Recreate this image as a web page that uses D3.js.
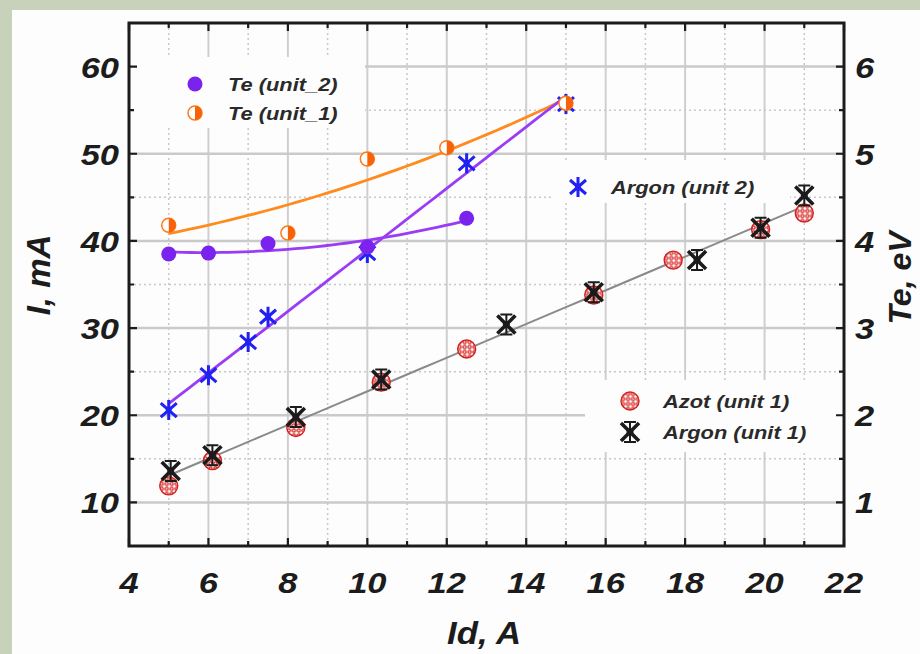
<!DOCTYPE html>
<html>
<head>
<meta charset="utf-8">
<script src="https://cdn.jsdelivr.net/npm/d3@7"></script>
<style>
  html, body { margin: 0; padding: 0; background: #c8d2bb; }
  svg { display: block; }
  text { font-family: "Liberation Sans", Arial, sans-serif; font-weight: bold; font-style: italic; fill: #1c1c1c; }
</style>
</head>
<body>
<svg id="chart" width="920" height="654"></svg>
<script>
// Id, A on the x axis; I, mA on the left; Te, eV on the right (same grid, Te = I / 10)
const idArgon2 = [5, 6, 7, 7.5, 10, 12.5, 15];
const iArgon2 = [20.6, 24.6, 28.4, 31.3, 38.6, 48.9, 55.7];

const idTe2 = [5, 6, 7.5, 10, 12.5];
const teUnit2 = [3.85, 3.86, 3.97, 3.93, 4.26];

const idTe1 = [5, 8, 10, 12, 15];
const teUnit1 = [4.18, 4.09, 4.94, 5.07, 5.58];

const idArgon1 = [5.05, 6.1, 8.2, 10.35, 13.5, 15.7, 18.3, 19.9, 21];
const iArgon1 = [13.6, 15.4, 19.8, 24.1, 30.4, 34.1, 37.8, 41.5, 45.2];

const idAzot = [5.0, 6.1, 8.2, 10.35, 12.5, 15.7, 17.7, 19.9, 21];
const iAzot = [11.9, 14.8, 18.6, 23.8, 27.6, 33.8, 37.8, 41.3, 43.2];

const xTicks = [4, 6, 8, 10, 12, 14, 16, 18, 20, 22];
const yTicks = [10, 20, 30, 40, 50, 60];
const teTicks = [1, 2, 3, 4, 5, 6];

const svg = d3.select("#chart");
const x = d3.scaleLinear().domain([4, 22]).range([129, 844]);
const y = d3.scaleLinear().domain([5, 65]).range([546, 23]);
const yTe = d3.scaleLinear().domain([0.5, 6.5]).range([546, 23]);

// least squares polynomial fit (degree 1 or 2)
function polyfit(xs, ys, deg) {
    const n = deg + 1;
    const A = d3.range(n).map(() => new Array(n + 1).fill(0));
    xs.forEach((xv, k) => {
        for (let i = 0; i < n; i++) {
            for (let j = 0; j < n; j++) A[i][j] += Math.pow(xv, i + j);
            A[i][n] += ys[k] * Math.pow(xv, i);
        }
    });
    for (let i = 0; i < n; i++) {
        let p = i;
        for (let r = i + 1; r < n; r++) if (Math.abs(A[r][i]) > Math.abs(A[p][i])) p = r;
        [A[i], A[p]] = [A[p], A[i]];
        for (let r = 0; r < n; r++) {
            if (r === i) continue;
            const f = A[r][i] / A[i][i];
            for (let c = i; c <= n; c++) A[r][c] -= f * A[i][c];
        }
    }
    const coef = A.map((row, i) => row[n] / row[i]);
    return v => coef.reduce((s, c, i) => s + c * Math.pow(v, i), 0);
}

// background panel
svg.append("rect").attr("x", 0).attr("y", 0).attr("width", 920).attr("height", 654).attr("fill", "#c8d2bb");
svg.append("rect").attr("x", 12).attr("y", 10).attr("width", 908).attr("height", 644).attr("fill", "#fdfdfd");

// grid
const grid = svg.append("g");
grid.selectAll(".vmaj").data(d3.range(6, 22, 2)).join("line")
    .attr("x1", d => x(d)).attr("x2", d => x(d)).attr("y1", y(65)).attr("y2", y(5))
    .attr("stroke", "#cfcfcf").attr("stroke-width", 2);
grid.selectAll(".vmin").data(d3.range(5, 22, 2)).join("line")
    .attr("x1", d => x(d)).attr("x2", d => x(d)).attr("y1", y(65)).attr("y2", y(5))
    .attr("stroke", "#c8c8c8").attr("stroke-width", 1.5).attr("stroke-dasharray", "2,3");
grid.selectAll(".hmaj").data(yTicks).join("line")
    .attr("x1", x(4)).attr("x2", x(22)).attr("y1", d => y(d)).attr("y2", d => y(d))
    .attr("stroke", "#cacaca").attr("stroke-width", 2.5);
grid.selectAll(".hmin").data(d3.range(15, 60, 10)).join("line")
    .attr("x1", x(4)).attr("x2", x(22)).attr("y1", d => y(d)).attr("y2", d => y(d))
    .attr("stroke", "#c8c8c8").attr("stroke-width", 1.5).attr("stroke-dasharray", "2,3");

// legend boxes hide the grid under them
const boxes = [[131, 57, 234, 71], [553, 160, 237, 43], [585, 380, 257, 72]];
svg.append("g").selectAll("rect").data(boxes).join("rect")
    .attr("x", d => d[0]).attr("y", d => d[1]).attr("width", d => d[2]).attr("height", d => d[3])
    .attr("fill", "#fdfdfd");

// fitted lines
const line = d3.line();
function fitPath(xs, ys, deg, yScale, color, width) {
    const f = polyfit(xs, ys, deg);
    const [a, b] = d3.extent(xs);
    const pts = d3.range(0, 41).map(i => a + (b - a) * i / 40).map(v => [x(v), yScale(f(v))]);
    svg.append("path").attr("d", line(pts)).attr("fill", "none")
        .attr("stroke", color).attr("stroke-width", width);
}
fitPath(idArgon1.concat(idAzot), iArgon1.concat(iAzot), 1, y, "#8a8a8a", 2);
fitPath(idTe1, teUnit1, 2, yTe, "#ff8a1e", 2.8);
fitPath(idTe2, teUnit2, 2, yTe, "#9a3cf5", 2.8);
fitPath(idArgon2, iArgon2, 1, y, "#9a3cf5", 2.8);

// marker symbols
const defs = svg.append("defs");
const pat = defs.append("pattern").attr("id", "azot").attr("patternUnits", "userSpaceOnUse")
    .attr("width", 5).attr("height", 5).attr("x", 0.5).attr("y", 0.5);
pat.append("rect").attr("width", 5).attr("height", 5).attr("fill", "#fff");
pat.append("circle").attr("cx", 2.5).attr("cy", 2.5).attr("r", 1.6).attr("fill", "none")
    .attr("stroke", "#d4201e").attr("stroke-width", 1.3);

function azot(g) {
    g.append("circle").attr("r", 9).attr("fill", "url(#azot)").attr("stroke", "#d4201e").attr("stroke-width", 1.4);
}
function argon1(g) {
    g.append("path").attr("d", "M-9,-9L9,9M9,-9L-9,9").attr("stroke", "#1b1b1b").attr("stroke-width", 3.6);
    g.append("path").attr("d", "M0,-10L0,10M-6,-10L6,-10M-6,10L6,10").attr("stroke", "#1b1b1b").attr("stroke-width", 2);
    g.append("circle").attr("r", 3.5).attr("fill", "#1b1b1b");
}
function argon2(g) {
    g.append("path").attr("d", "M0,-10L0,10M-8,-7L8,7M8,-7L-8,7").attr("stroke", "#2121f2").attr("stroke-width", 3);
    g.append("circle").attr("r", 3).attr("fill", "#2121f2");
}
function te2(g) {
    g.append("circle").attr("r", 7.5).attr("fill", "#7a22ee");
}
function te1(g) {
    g.append("circle").attr("r", 7).attr("fill", "#fff").attr("stroke", "#ff7a14").attr("stroke-width", 1.5);
    g.append("path").attr("d", d3.arc()({ innerRadius: 0, outerRadius: 7, startAngle: 0, endAngle: Math.PI })).attr("fill", "#f5620a");
}

function scatter(xs, ys, yScale, draw) {
    svg.append("g").selectAll("g").data(xs.map((v, i) => [v, ys[i]])).join("g")
        .attr("transform", d => `translate(${x(d[0])},${yScale(d[1])})`)
        .each(function () { draw(d3.select(this)); });
}
scatter(idAzot, iAzot, y, azot);
scatter(idArgon1, iArgon1, y, argon1);
scatter(idArgon2, iArgon2, y, argon2);
scatter(idTe1, teUnit1, yTe, te1);
scatter(idTe2, teUnit2, yTe, te2);

// frame and ticks
const axis = svg.append("g").attr("stroke", "#1c1c1c");
axis.append("rect").attr("x", x(4)).attr("y", y(65)).attr("width", x(22) - x(4)).attr("height", y(5) - y(65))
    .attr("fill", "none").attr("stroke-width", 3);
const xMinor = d3.range(5, 22, 2);
const yMinor = d3.range(15, 60, 10);
[[xTicks, 8], [xMinor, 5]].forEach(([vals, len]) => {
    axis.selectAll(null).data(vals).join("path")
        .attr("d", d => `M${x(d)},${y(5)}v${-len}M${x(d)},${y(65)}v${len}`).attr("stroke-width", 2.2);
});
[[yTicks, 8], [yMinor, 5]].forEach(([vals, len]) => {
    axis.selectAll(null).data(vals).join("path")
        .attr("d", d => `M${x(4)},${y(d)}h${len}M${x(22)},${y(d)}h${-len}`).attr("stroke-width", 2.2);
});

// tick labels
function txt(px, py, str, size, anchor, sx) {
    return svg.append("text").attr("transform", `translate(${px},${py}) scale(${sx},1)`)
        .attr("text-anchor", anchor).style("font-size", size + "px").text(str);
}
xTicks.forEach(d => txt(x(d), 593, d, 30, "middle", 1.15));
yTicks.forEach(d => txt(119, y(d) + 11, d, 30, "end", 1.15));
teTicks.forEach(d => txt(855, yTe(d) + 11, d, 30, "start", 1.15));

// axis titles
txt(484, 644, "Id, A", 31, "middle", 1.12);
svg.append("text").attr("transform", "translate(50,275) rotate(-90)").attr("text-anchor", "middle")
    .style("font-size", "33px").text("I, mA");
svg.append("text").attr("transform", "translate(911,278) rotate(-90)").attr("text-anchor", "middle")
    .style("font-size", "32px").text("Te, eV");

// legends
const legend = [
    ["Te (unit_2)", 195, 84, te2],
    ["Te (unit_1)", 195, 113, te1],
    ["Argon (unit 2)", 578, 187, argon2],
    ["Azot (unit 1)", 630, 401, azot],
    ["Argon (unit 1)", 630, 432, argon1]
];
legend.forEach(([name, lx, ly, draw]) => {
    draw(svg.append("g").attr("transform", `translate(${lx},${ly})`));
    txt(lx + 33, ly + 7, name, 19, "start", 1.15).style("fill", "#2a2a2a");
});
</script>
</body>
</html>
